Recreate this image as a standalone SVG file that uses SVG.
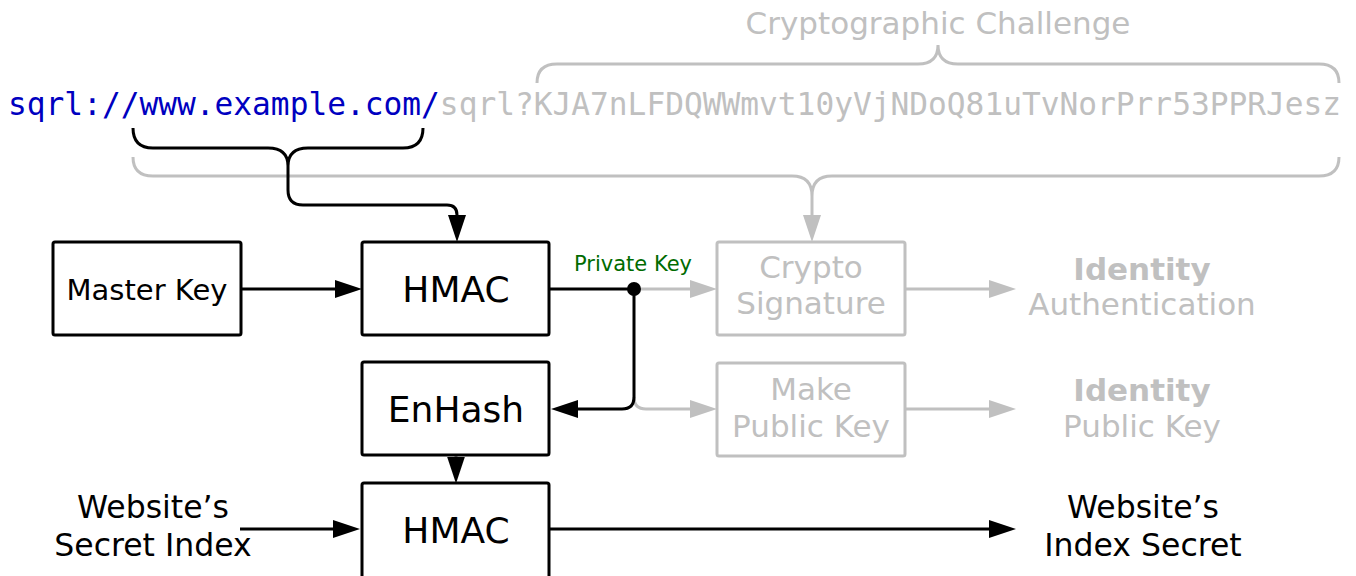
<svg xmlns="http://www.w3.org/2000/svg" width="1356" height="576" viewBox="0 0 1356 576">
<style>
.box{fill:#fff;stroke:#000;stroke-width:3}
.gbox{fill:#fff;stroke:#c0c0c0;stroke-width:3}
.t{font-family:"DejaVu Sans",Verdana,sans-serif;text-anchor:middle;fill:#000}
.g{fill:#c0c0c0}
.ln{fill:none;stroke:#000;stroke-width:3}
.gln{fill:none;stroke:#c0c0c0;stroke-width:3}
.mono{font-family:"DejaVu Sans Mono",monospace;font-size:31.2px}
</style>
<defs>
<marker id="ah" viewBox="0 0 27 18" refX="0" refY="9" markerWidth="27" markerHeight="18" markerUnits="userSpaceOnUse" orient="auto"><path d="M0,0L27,9L0,18z" fill="#000"/></marker>
<marker id="gah" viewBox="0 0 27 18" refX="0" refY="9" markerWidth="27" markerHeight="18" markerUnits="userSpaceOnUse" orient="auto"><path d="M0,0L27,9L0,18z" fill="#c0c0c0"/></marker>
</defs>
<rect width="1356" height="576" fill="#fff"/>
<g id="url">
<text class="mono" x="8" y="115"><tspan fill="#0000c0">sqrl://www.example.com/</tspan><tspan fill="#c0c0c0">sqrl?KJA7nLFDQWWmvt10yVjNDoQ81uTvNorPrr53PPRJesz</tspan></text>
</g>
<g id="challenge-label"><text class="t g" x="938" y="34" font-size="31">Cryptographic Challenge</text></g>
<g id="connectors">
<path class="gln" d="M537,83Q537,64 557,64H918Q938,64 938,45Q938,64 958,64H1319Q1339,64 1339,83"/>
<path class="gln" d="M133,157Q133,176 153,176H792Q812,176 812,196Q812,176 832,176H1319Q1339,176 1339,157"/>
<path class="gln" d="M812,196V215" marker-end="url(#gah)"/>
<path class="ln" d="M133,128Q133,148 153,148H268Q288,148 288,166Q288,148 308,148H403Q423,148 423,128"/>
<path class="ln" d="M288,166V190Q288,205 303,205H447Q457,205 457,215" marker-end="url(#ah)"/>
<path class="ln" d="M241,289H335" marker-end="url(#ah)"/>
<path class="ln" d="M549,289H634"/>
<path class="gln" d="M634,289H690" marker-end="url(#gah)"/>
<path class="gln" d="M634,397Q634,409 646,409H690" marker-end="url(#gah)"/>
<path class="ln" d="M634,289V397Q634,409 622,409H578" marker-end="url(#ah)"/>
<circle cx="634" cy="289" r="7" fill="#000"/>
<path class="gln" d="M905,289H989" marker-end="url(#gah)"/>
<path class="gln" d="M905,409H989" marker-end="url(#gah)"/>
<path class="ln" d="M456,456V456.5" marker-end="url(#ah)"/>
<path class="ln" d="M240,529H333" marker-end="url(#ah)"/>
<path class="ln" d="M549,529H989" marker-end="url(#ah)"/>
<text class="t" x="633" y="271" font-size="21" style="fill:#006b00">Private Key</text>
</g>
<g id="master-key"><rect class="box" x="53" y="242" width="188" height="93" rx="2"/><text class="t" x="147" y="300" font-size="29">Master Key</text></g>
<g id="hmac1"><rect class="box" x="362" y="242" width="187" height="93" rx="2"/><text class="t" x="456" y="302" font-size="36">HMAC</text></g>
<g id="crypto-sig"><rect class="gbox" x="717" y="242" width="188" height="93" rx="2"/><text class="t g" x="811" y="278" font-size="31">Crypto</text><text class="t g" x="811" y="314" font-size="31">Signature</text></g>
<g id="identity-auth"><text class="t g" x="1142" y="280" font-size="31" font-weight="bold">Identity</text><text class="t g" x="1142" y="315" font-size="31">Authentication</text></g>
<g id="enhash"><rect class="box" x="362" y="362" width="187" height="93" rx="2"/><text class="t" x="456" y="422" font-size="36">EnHash</text></g>
<g id="make-pub"><rect class="gbox" x="717" y="363" width="188" height="93" rx="2"/><text class="t g" x="811" y="400" font-size="31">Make</text><text class="t g" x="811" y="437" font-size="31">Public Key</text></g>
<g id="identity-pub"><text class="t g" x="1142" y="401" font-size="31" font-weight="bold">Identity</text><text class="t g" x="1142" y="437" font-size="31">Public Key</text></g>
<g id="hmac2"><rect class="box" x="362" y="483" width="187" height="95" rx="2"/><text class="t" x="456" y="543" font-size="36">HMAC</text></g>
<g id="secret-index"><text class="t" x="153" y="518" font-size="31.5">Website’s</text><text class="t" x="153" y="556" font-size="31.5">Secret Index</text></g>
<g id="index-secret"><text class="t" x="1143" y="518" font-size="31.5">Website’s</text><text class="t" x="1143" y="556" font-size="31.5">Index Secret</text></g>
</svg>
